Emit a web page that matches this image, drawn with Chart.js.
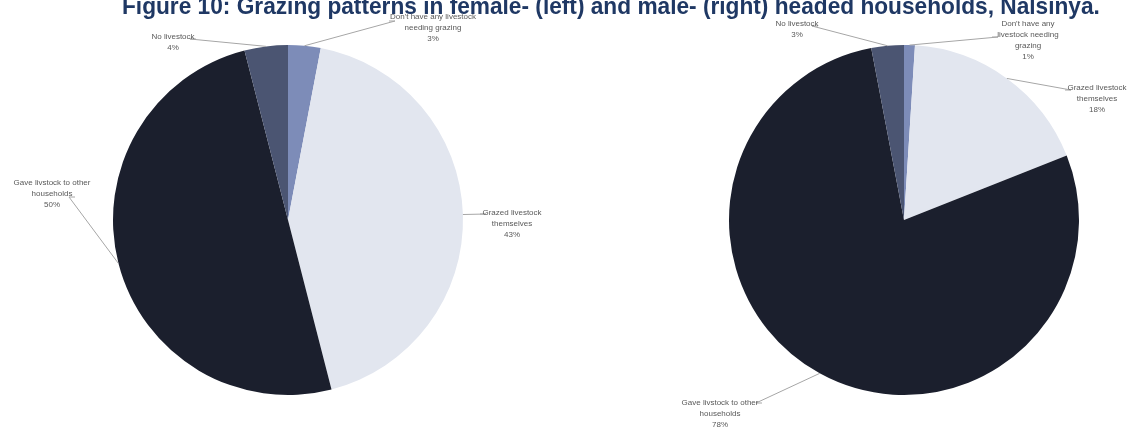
<!DOCTYPE html>
<html>
<head>
<meta charset="utf-8">
<script src="https://cdn.jsdelivr.net/npm/chart.js@4"></script>
<style>
    body { margin: 0; background: #fff; width: 1130px; height: 427px; overflow: hidden; position: relative; }
    canvas { position: absolute; top: 0; }
    #title {
        position: absolute; left: 122px; top: -6px;
        font: bold 24px/24px "Liberation Sans", sans-serif; color: #1f3864;
        white-space: nowrap; transform-origin: left top;
    }
</style>
</head>
<body>
<canvas id="femaleChart" width="576" height="427" style="left:0"></canvas>
<canvas id="maleChart" width="554" height="427" style="left:576px"></canvas>
<div id="title">Figure 10: Grazing patterns in female- (left) and male- (right) headed households, Nalsinya.</div>

<script>
// Data
const categories = [
    "Don't have any livestock needing grazing",
    'Grazed livestock themselves',
    'Gave livstock to other households',
    'No livestock'
];
const femaleValues = [3, 43, 50, 4];
const maleValues = [1, 18, 78, 3];

// how each label is wrapped in the picture
const femaleLabelLines = [
    ["Don't have any livestock", 'needing grazing'],
    ['Grazed livestock', 'themselves'],
    ['Gave livstock to other', 'households'],
    ['No livestock']
];
const maleLabelLines = [
    ["Don't have any", 'livestock needing', 'grazing'],
    ['Grazed livestock', 'themselves'],
    ['Gave livstock to other', 'households'],
    ['No livestock']
];

const sliceColors = ['#7d8cb8', '#e2e6ef', '#1b1f2d', '#4b5572'];

// label placement (page coords): text centre x, first line y, leader end point, stub direction
const femaleLabelPos = [
    { x: 433, y: 17, ax: 389, ay: 21, dir: -1 },
    { x: 512, y: 213, ax: 480, ay: 214, dir: -1 },
    { x: 52, y: 183, ax: 75, ay: 197, dir: 1 },
    { x: 173, y: 37, ax: 196, ay: 39, dir: 1 }
];
const maleLabelPos = [
    { x: 1028, y: 24, ax: 992, ay: 37, dir: -1 },
    { x: 1097, y: 88, ax: 1065, ay: 90, dir: -1 },
    { x: 720, y: 403, ax: 762, ay: 403, dir: 1 },
    { x: 797, y: 24, ax: 818, ay: 26, dir: 1 }
];

const leaderLabels = {
    id: 'leaderLabels',
    afterDraw(chart, args, opts) {
        const ctx = chart.ctx;
        const meta = chart.getDatasetMeta(0);
        const values = chart.data.datasets[0].data;
        ctx.save();
        ctx.font = '8px "Liberation Sans", sans-serif';
        ctx.textAlign = 'center';
        ctx.textBaseline = 'middle';
        meta.data.forEach((arc, i) => {
            const p = arc.getProps(['x', 'y', 'startAngle', 'endAngle', 'outerRadius'], true);
            const mid = (p.startAngle + p.endAngle) / 2;
            const px = p.x + Math.cos(mid) * p.outerRadius;
            const py = p.y + Math.sin(mid) * p.outerRadius;
            const pos = opts.positions[i];
            const ax = pos.ax - opts.offsetX;
            const lx = pos.x - opts.offsetX;

            ctx.strokeStyle = '#a6a6a6';
            ctx.lineWidth = 1;
            ctx.beginPath();
            ctx.moveTo(px, py);
            ctx.lineTo(ax + pos.dir * -6, pos.ay);
            ctx.lineTo(ax, pos.ay);
            ctx.stroke();

            ctx.fillStyle = '#595959';
            const lines = opts.lines[i].concat([values[i] + '%']);
            lines.forEach((t, k) => ctx.fillText(t, lx, pos.y + k * 11));
        });
        ctx.restore();
    }
};

function makePie(id, values, lines, positions, offsetX, padding) {
    return new Chart(document.getElementById(id), {
        type: 'pie',
        data: {
            labels: categories,
            datasets: [{
                data: values,
                backgroundColor: sliceColors,
                borderWidth: 0
            }]
        },
        options: {
            responsive: false,
            animation: false,
            layout: { padding: padding },
            plugins: {
                legend: { display: false },
                tooltip: { enabled: false },
                leaderLabels: { lines: lines, positions: positions, offsetX: offsetX }
            }
        },
        plugins: [leaderLabels]
    });
}

makePie('femaleChart', femaleValues, femaleLabelLines, femaleLabelPos, 0,
    { left: 113, right: 113, top: 45, bottom: 32 });
makePie('maleChart', maleValues, maleLabelLines, maleLabelPos, 576,
    { left: 153, right: 51, top: 45, bottom: 32 });

// squeeze the title to the width it has in the picture
const title = document.getElementById('title');
title.style.transform = 'scaleX(' + (978 / title.offsetWidth) + ')';
</script>
</body>
</html>
